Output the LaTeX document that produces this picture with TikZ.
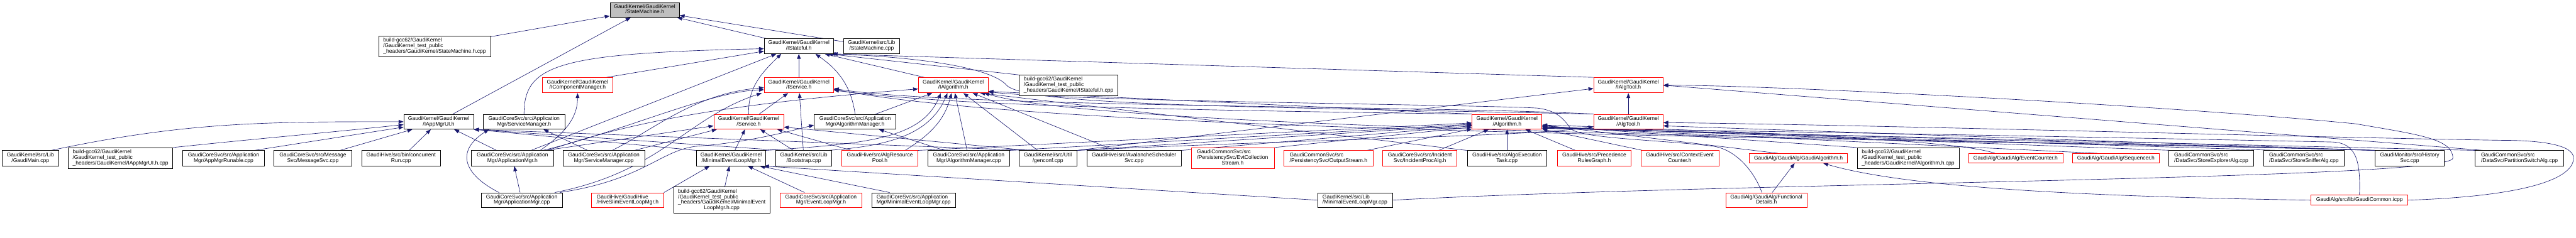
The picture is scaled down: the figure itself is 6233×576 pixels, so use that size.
\documentclass[tikz,border=0pt]{standalone}
\usepackage{fontspec}
\setmainfont{Liberation Sans}
\usetikzlibrary{arrows.meta}
\pgfdeclarelayer{back}
\pgfdeclarelayer{bg}
\pgfsetlayers{back,bg,main}
\definecolor{edgeblue}{HTML}{191970}
\definecolor{rootgrey}{HTML}{BFBFBF}
\definecolor{trunc}{HTML}{FF0000}
\renewcommand{\arraystretch}{1}
\newcommand{\gtwo}[2]{\begin{tabular}{@{}l@{}}#1\\\multicolumn{1}{@{}c@{}}{#2}\end{tabular}}
\newcommand{\gthree}[3]{\begin{tabular}{@{}l@{}}#1\\#2\\\multicolumn{1}{@{}c@{}}{#3}\end{tabular}}
\newcommand{\gfour}[4]{\begin{tabular}{@{}l@{}}#1\\#2\\#3\\\multicolumn{1}{@{}c@{}}{#4}\end{tabular}}
\tikzset{
  gbox/.style={draw=black, fill=white, line width=1.1pt, inner sep=0pt, align=center,
    font=\fontsize{13}{13.3}\selectfont},
  gred/.style={gbox, draw=trunc},
  groot/.style={gbox, fill=rootgrey},
  bw/.style={minimum width=#1pt},
  bh/.style={minimum height=#1pt},
  gedge/.style={draw=edgeblue, line width=1pt, -{Triangle[length=12pt,width=9pt]}},
}
\begin{document}
\begin{tikzpicture}[x=1pt,y=1pt]
\useasboundingbox (0,0) rectangle (6233,576);
\begin{pgfonlayer}{back}
\fill[white] (0,0) rectangle (6233,576);
\end{pgfonlayer}
% ---- row 0
\node[groot, bw=168, bh=36] (sm) at (1560,552) {\gtwo{GaudiKernel/GaudiKernel}{/StateMachine.h}};
% ---- row 1
\node[gbox, bw=271, bh=49] (smhcpp) at (1051.5,463.5) {\gthree{build-gcc62/GaudiKernel}{/GaudiKernel\_test\_public}{\_headers/GaudiKernel/StateMachine.h.cpp}};
\node[gbox, bw=168, bh=36] (istateful) at (1933,464) {\gtwo{GaudiKernel/GaudiKernel}{/IStateful.h}};
\node[gbox, bw=136, bh=36] (smcpp) at (2109,464) {\gtwo{GaudiKernel/src/Lib}{/StateMachine.cpp}};
% ---- row 2
\node[gred, bw=169, bh=37] (icompmgr) at (1397.5,369.5) {\gtwo{GaudiKernel/GaudiKernel}{/IComponentManager.h}};
\node[gred, bw=168, bh=37] (iservice) at (1933,369.5) {\gtwo{GaudiKernel/GaudiKernel}{/IService.h}};
\node[gred, bw=169, bh=37] (ialgorithm) at (2306.5,369.5) {\gtwo{GaudiKernel/GaudiKernel}{/IAlgorithm.h}};
\node[gbox, bw=239, bh=50] (istatefulcpp) at (2585.5,369) {\gthree{build-gcc62/GaudiKernel}{/GaudiKernel\_test\_public}{\_headers/GaudiKernel/IStateful.h.cpp}};
\node[gred, bw=168, bh=37] (ialgtool) at (3940,369.5) {\gtwo{GaudiKernel/GaudiKernel}{/IAlgTool.h}};
% ---- row 3
\node[gbox, bw=169, bh=36] (ui) at (1061.5,281) {\gtwo{GaudiKernel/GaudiKernel}{/IAppMgrUI.h}};
\node[gbox, bw=198, bh=36] (svcmgrh) at (1268,281) {\gtwo{GaudiCoreSvc/src/Application}{Mgr/ServiceManager.h}};
\node[gred, bw=169, bh=36] (serviceh) at (1811.5,281) {\gtwo{GaudiKernel/GaudiKernel}{/Service.h}};
\node[gbox, bw=198, bh=36] (algmgrh) at (2069,281) {\gtwo{GaudiCoreSvc/src/Application}{Mgr/AlgorithmManager.h}};
\node[gred, bw=169, bh=36] (algorithmh) at (3646.5,281) {\gtwo{GaudiKernel/GaudiKernel}{/Algorithm.h}};
\node[gred, bw=168, bh=36] (algtoolh) at (3940,281) {\gtwo{GaudiKernel/GaudiKernel}{/AlgTool.h}};
% ---- row 4
\node[gbox, bw=137, bh=37] (gaudimain) at (73.5,192.5) {\gtwo{GaudiKernel/src/Lib}{/GaudiMain.cpp}};
\node[gbox, bw=253, bh=50] (uicpp) at (291.5,193) {\gthree{build-gcc62/GaudiKernel}{/GaudiKernel\_test\_public}{\_headers/GaudiKernel/IAppMgrUI.h.cpp}};
\node[gbox, bw=198, bh=37] (runable) at (541,192.5) {\gtwo{GaudiCoreSvc/src/Application}{Mgr/AppMgrRunable.cpp}};
\node[gbox, bw=188, bh=37] (msgsvc) at (757,192.5) {\gtwo{GaudiCoreSvc/src/Message}{Svc/MessageSvc.cpp}};
\node[gbox, bw=191, bh=37] (concrun) at (970.5,192.5) {\gtwo{GaudiHive/src/bin/concurrent}{Run.cpp}};
\node[gbox, bw=198, bh=37] (appmgrh) at (1240,192.5) {\gtwo{GaudiCoreSvc/src/Application}{Mgr/ApplicationMgr.h}};
\node[gbox, bw=198, bh=37] (svcmgrcpp) at (1461,192.5) {\gtwo{GaudiCoreSvc/src/Application}{Mgr/ServiceManager.cpp}};
\node[gbox, bw=168, bh=37] (minelmh) at (1769,192.5) {\gtwo{GaudiKernel/GaudiKernel}{/MinimalEventLoopMgr.h}};
\node[gbox, bw=136, bh=37] (bootstrap) at (1945,192.5) {\gtwo{GaudiKernel/src/Lib}{/Bootstrap.cpp}};
\node[gred, bw=184, bh=37] (algrespool) at (2129,192.5) {\gtwo{GaudiHive/src/AlgResource}{Pool.h}};
\node[gbox, bw=198, bh=37] (algmgrcpp) at (2344,192.5) {\gtwo{GaudiCoreSvc/src/Application}{Mgr/AlgorithmManager.cpp}};
\node[gbox, bw=139, bh=37] (genconf) at (2535.5,192.5) {\gtwo{GaudiKernel/src/Util}{/genconf.cpp}};
\node[gbox, bw=228, bh=37] (avalanche) at (2744,192.5) {\gtwo{GaudiHive/src/AvalancheScheduler}{Svc.cpp}};
\node[gred, bw=201, bh=50] (evtcoll) at (2982.5,193) {\gthree{GaudiCommonSvc/src}{/PersistencySvc/EvtCollection}{Stream.h}};
\node[gred, bw=215, bh=37] (outstream) at (3214.5,192.5) {\gtwo{GaudiCommonSvc/src}{/PersistencySvc/OutputStream.h}};
\node[gred, bw=179, bh=37] (incproc) at (3435.5,192.5) {\gtwo{GaudiCoreSvc/src/Incident}{Svc/IncidentProcAlg.h}};
\node[gbox, bw=193, bh=37] (algoexec) at (3646.5,192.5) {\gtwo{GaudiHive/src/AlgoExecution}{Task.cpp}};
\node[gred, bw=179, bh=37] (precrules) at (3857.5,192.5) {\gtwo{GaudiHive/src/Precedence}{RulesGraph.h}};
\node[gred, bw=189, bh=37] (ctxevt) at (4064.5,192.5) {\gtwo{GaudiHive/src/ContextEvent}{Counter.h}};
\node[gred, bw=237, bh=23] (gaudialgh) at (4351.5,192.5) {GaudiAlg/GaudiAlg/GaudiAlgorithm.h};
\node[gbox, bw=246, bh=50] (algorithmhcpp) at (4617,193) {\gthree{build-gcc62/GaudiKernel}{/GaudiKernel\_test\_public}{\_headers/GaudiKernel/Algorithm.h.cpp}};
\node[gred, bw=228, bh=23] (evtcounter) at (4877,192.5) {GaudiAlg/GaudiAlg/EventCounter.h};
\node[gred, bw=209, bh=23] (sequencer) at (5119.5,192.5) {GaudiAlg/GaudiAlg/Sequencer.h};
\node[gbox, bw=205, bh=37] (storeexpl) at (5350.5,192.5) {\gtwo{GaudiCommonSvc/src}{/DataSvc/StoreExplorerAlg.cpp}};
\node[gbox, bw=195, bh=37] (storesniff) at (5574.5,192.5) {\gtwo{GaudiCommonSvc/src}{/DataSvc/StoreSnifferAlg.cpp}};
\node[gbox, bw=167, bh=37] (historysvc) at (5830.5,192.5) {\gtwo{GaudiMonitor/src/History}{Svc.cpp}};
\node[gbox, bw=214, bh=37] (partswitch) at (6096,192.5) {\gtwo{GaudiCommonSvc/src}{/DataSvc/PartitionSwitchAlg.cpp}};
% ---- row 5
\node[gbox, bw=197, bh=36] (appmgrcpp) at (1262.5,91) {\gtwo{GaudiCoreSvc/src/Application}{Mgr/ApplicationMgr.cpp}};
\node[gred, bw=175, bh=36] (hiveslim) at (1518.5,91) {\gtwo{GaudiHive/GaudiHive}{/HiveSlimEventLoopMgr.h}};
\node[gbox, bw=233, bh=64] (minelmhcpp) at (1746.5,91) {\gfour{build-gcc62/GaudiKernel}{/GaudiKernel\_test\_public}{\_headers/GaudiKernel/MinimalEvent}{LoopMgr.h.cpp}};
\node[gred, bw=197, bh=36] (eventloopmgrh) at (1986.5,91) {\gtwo{GaudiCoreSvc/src/Application}{Mgr/EventLoopMgr.h}};
\node[gbox, bw=203, bh=36] (minelmcore) at (2210.5,91) {\gtwo{GaudiCoreSvc/src/Application}{Mgr/MinimalEventLoopMgr.cpp}};
\node[gbox, bw=181, bh=36] (minelmlib) at (3278.5,91) {\gtwo{GaudiKernel/src/Lib}{/MinimalEventLoopMgr.cpp}};
\node[gred, bw=196, bh=36] (functional) at (4274,91) {\gtwo{GaudiAlg/GaudiAlg/Functional}{Details.h}};
\node[gred, bw=234, bh=24] (gaudicommon) at (5709,91) {GaudiAlg/src/lib/GaudiCommon.icpp};

\begin{pgfonlayer}{bg}
% StateMachine.h
\draw[gedge] (smhcpp) -- (sm);
\draw[gedge] (ui) -- (sm);
\draw[gedge] (istateful) -- (sm);
\draw[gedge] (smcpp) -- (sm);
% IAppMgrUI.h
\draw[gedge] ([xshift=-19pt]gaudimain.north east) to[out=12,in=180] (ui.west);
\draw[gedge] (uicpp.north east) to[out=6,in=186] ([yshift=-7pt]ui.west);
\draw[gedge] ([xshift=74pt]runable.north) -- ([yshift=-13pt]ui.west);
\draw[gedge] (msgsvc) -- (ui);
\draw[gedge] (concrun) -- (ui);
\draw[gedge] (appmgrh) -- (ui);
\draw[gedge] ([xshift=16pt]bootstrap.north west) -- (ui.south east);
\draw[gedge] (minelmh.north west) -- (ui.south east);
\draw[gedge] ([xshift=21pt]genconf.north west) -- (ui.south east);
% IStateful.h
\draw[gedge] (svcmgrh.north) .. controls (1268,420) and (1350,447) .. ([yshift=-6pt]istateful.west);
\draw[gedge] ([xshift=-15pt]icompmgr.north east) -- ([yshift=-12pt]istateful.west);
\draw[gedge] ([xshift=45pt]appmgrh.north) -- ([xshift=30pt]istateful.south west);
\draw[gedge] (serviceh.north) to[out=92,in=-136] ([xshift=42pt]istateful.south west);
\draw[gedge] (iservice) -- (istateful);
\draw[gedge] (algmgrh.north) to[out=98,in=-35] ([xshift=40pt]istateful.south);
\draw[gedge] ([xshift=15pt]ialgorithm.north west) -- ([xshift=-22pt]istateful.south east);
\draw[gedge] (istatefulcpp.north west) -- ([xshift=-15pt]istateful.south east);
\draw[gedge] (ialgtool.north west) -- ([xshift=-8pt]istateful.south east);
\draw[gedge] (algtoolh.north west) .. controls (3000,318) and (2480,320) .. (2435,370) .. controls (2400,409) and (2250,436) .. ([xshift=-3pt]istateful.south east);
% IComponentManager.h
\draw[gedge] ([xshift=67pt]appmgrh.north) to[out=35,in=-90] (icompmgr.south);
% ServiceManager.h
\draw[gedge] ([xshift=-39pt]svcmgrcpp.north) -- ([xshift=47pt]svcmgrh.south);
\draw[gedge] ([xshift=-55pt]appmgrcpp.north) to[out=153,in=-147,looseness=1.6] ([xshift=-85pt]svcmgrh.south);
% ApplicationMgr.h
\draw[gedge] (appmgrcpp) -- (appmgrh);
% AlgorithmManager.h
\draw[gedge] (algmgrcpp) -- (algmgrh);
\draw[gedge] ([xshift=92pt]appmgrcpp.north) .. controls (1560,140) and (1600,215) .. (1690,222) .. controls (1800,230) and (1900,255) .. ([yshift=-8pt]algmgrh.west);
% MinimalEventLoopMgr.h
\draw[gedge] (hiveslim.north east) -- ([xshift=-52pt]minelmh.south);
\draw[gedge] (minelmhcpp) -- (minelmh);
\draw[gedge] (eventloopmgrh) -- (minelmh);
\draw[gedge] ([xshift=-58pt]minelmcore.north) -- ([xshift=-15pt]minelmh.south east);
\draw[gedge] (minelmlib.west) -- ([xshift=-5pt]minelmh.south east);
% Service.h
\draw[gedge] ([xshift=80pt]appmgrh.north) -- ([yshift=-10pt]serviceh.west);
\draw[gedge] ([xshift=74pt]svcmgrcpp.north) -- ([xshift=8pt]serviceh.south west);
\draw[gedge] (minelmh) -- (serviceh);
\draw[gedge] ([xshift=-25pt]bootstrap.north) -- ([xshift=28pt]serviceh.south);
\draw[gedge] ([xshift=-69pt]algrespool.north) -- ([xshift=-16pt]serviceh.south east);
\draw[gedge] ([xshift=21pt]genconf.north west) -- ([yshift=-13pt]serviceh.east);
% IService.h
\draw[gedge] ([xshift=73pt]appmgrh.north) .. controls (1500,255) and (1720,355) .. ([yshift=-11pt]iservice.west);
\draw[gedge] ([xshift=20pt]svcmgrcpp.north) .. controls (1580,260) and (1680,350) .. ([yshift=-6pt]iservice.west);
\draw[gedge] ([xshift=80pt]appmgrcpp.north) .. controls (1600,160) and (1660,290) .. ([xshift=-90pt]iservice.south);
\draw[gedge] (serviceh) -- (iservice);
\draw[gedge] (bootstrap) -- (iservice);
\draw[gedge] (historysvc.north west) .. controls (4500,245) and (2600,250) .. ([yshift=-10pt]iservice.east);
\draw[gedge] (algorithmh.north west) .. controls (2800,310) and (2300,320) .. ([yshift=-12pt]iservice.east);
\draw[gedge] (algtoolh.north west) .. controls (3500,320) and (2300,315) .. ([yshift=-8pt]iservice.east);
% IAlgorithm.h
\draw[gedge] (algmgrh) -- (ialgorithm);
\draw[gedge] (minelmh.north east) .. controls (2100,228) and (2230,240) .. ([xshift=-30pt]ialgorithm.south);
\draw[gedge] ([xshift=-10pt]bootstrap.north east) .. controls (2150,222) and (2250,250) .. ([xshift=-14pt]ialgorithm.south);
\draw[gedge] ([xshift=61pt]algrespool.north) to[out=32,in=-105] ([xshift=-4pt]ialgorithm.south);
\draw[gedge] (algmgrcpp) -- (ialgorithm);
\draw[gedge] (genconf) -- (ialgorithm);
\draw[gedge] (avalanche) -- (ialgorithm);
\draw[gedge] ([xshift=85pt]appmgrh.north) .. controls (1500,270) and (1700,320) .. ([yshift=-9pt]ialgorithm.west);
\draw[gedge] (algorithmh.north west) -- ([yshift=-15pt]ialgorithm.east);
\draw[gedge] (algoexec.north west) -- ([xshift=-20pt]ialgorithm.south east);
\draw[gedge] (historysvc.north west) .. controls (4800,240) and (2700,255) .. ([xshift=-10pt]ialgorithm.south east);
\draw[gedge] ([xshift=-11pt]functional.north) .. controls (4245,160) and (4200,215) .. (4143,222) .. controls (4023,237) and (3820,240) .. (3800,265) .. controls (3785,285) and (3770,308) .. (3720,314) .. controls (3600,322) and (2600,330) .. ([yshift=-16pt]ialgorithm.east);
% IAlgTool.h
\draw[gedge] (algtoolh) -- (ialgtool);
\draw[gedge] (genconf.north east) -- ([yshift=-8pt]ialgtool.west);
\draw[gedge] ([xshift=-86pt]partswitch.north) -- (ialgtool.east);
\draw[gedge] (minelmlib.east) .. controls (4200,135) and (5935,140) .. (5935,193) .. controls (5935,240) and (5850,250) .. (5700,276) .. controls (5250,320) and (4300,369.5) .. (ialgtool.east);
% Algorithm.h from the left
\draw[gedge] (algrespool.north east) -- ([yshift=-3pt]algorithmh.west);
\draw[gedge] (algmgrcpp.north east) -- ([yshift=-6pt]algorithmh.west);
\draw[gedge] (genconf.north east) -- ([yshift=-8pt]algorithmh.west);
\draw[gedge] (avalanche.north east) -- ([yshift=-10pt]algorithmh.west);
\draw[gedge] (evtcoll.north east) -- ([yshift=-13pt]algorithmh.west);
\draw[gedge] (outstream) -- (algorithmh);
\draw[gedge] (incproc) -- (algorithmh);
\draw[gedge] (algoexec) -- (algorithmh);
% Algorithm.h from the right
\draw[gedge] (precrules) -- (algorithmh);
\draw[gedge] (ctxevt) -- (algorithmh);
\draw[gedge] ([xshift=-50pt]gaudialgh.north) -- ([yshift=-8pt]algorithmh.east);
\draw[gedge] (algorithmhcpp.north west) -- ([yshift=-10pt]algorithmh.east);
\draw[gedge] ([xshift=-50pt]evtcounter.north) .. controls (4740,235) and (4300,255) .. ([yshift=-8pt]algorithmh.east);
\draw[gedge] ([xshift=-45pt]sequencer.north) -- ([yshift=-12pt]algorithmh.east);
\draw[gedge] ([xshift=-95pt]storeexpl.north) -- ([yshift=-12pt]algorithmh.east);
\draw[gedge] ([xshift=-62pt]storesniff.north) -- ([yshift=-14pt]algorithmh.east);
\draw[gedge] ([xshift=10pt]historysvc.north west) -- ([yshift=-14pt]algorithmh.east);
\draw[gedge] ([xshift=-106pt]partswitch.north) -- ([yshift=-16pt]algorithmh.east);
\draw[gedge] (gaudicommon.north) .. controls (5712,190) and (5700,231) .. (5640,232) .. controls (5000,245) and (4200,260) .. ([yshift=-16pt]algorithmh.east);
% AlgTool.h
\draw[gedge] (genconf.north east) .. controls (3200,240) and (3700,245) .. ([yshift=-12pt]algtoolh.west);
\draw[gedge] ([xshift=5pt]historysvc.north west) -- ([yshift=-10pt]algtoolh.east);
\draw[gedge] (gaudicommon.east) .. controls (6100,100) and (6227,140) .. (6227,193) .. controls (6227,225) and (6150,236) .. (6053,236) .. controls (5500,245) and (4600,272) .. ([yshift=-2pt]algtoolh.east);
% GaudiAlgorithm.h
\draw[gedge] (functional) -- (gaudialgh);
\draw[gedge] (gaudicommon.west) .. controls (5000,100) and (4600,125) .. ([xshift=60pt]gaudialgh.south);
\end{pgfonlayer}
\end{tikzpicture}
\end{document}
